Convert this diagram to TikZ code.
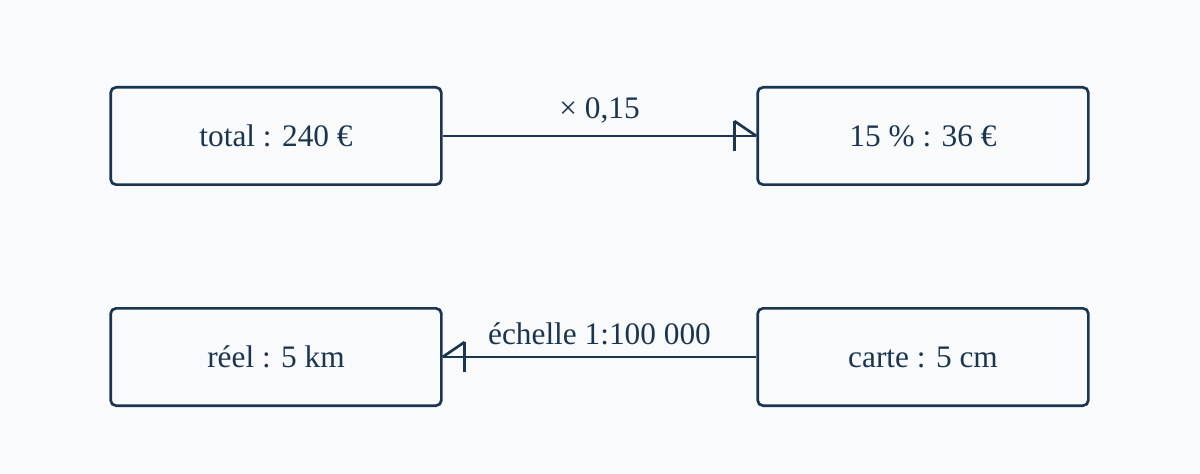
\documentclass[tikz,border=0pt]{standalone}
\usepackage{fontspec}
\setmainfont{Liberation Serif}
\usetikzlibrary{calc}
\definecolor{ink}{HTML}{1B3550}
\definecolor{bg}{HTML}{F8FAFC}
\begin{document}
\begin{tikzpicture}
            [x=0.75pt, y=-0.75pt,
             box/.style = {draw=ink, line width=2pt, rounded corners=4pt, minimum width=248pt, minimum height=73pt, inner sep=0pt, font=\fontsize{23.5}{26}\selectfont, text=ink},
             link/.style = {draw=ink, line width=2pt},
             lbl/.style = {font=\fontsize{23.5}{26}\selectfont, text=ink}]
            \fill[bg] (0,0) rectangle (1200,474);
            \node[box] (total) at (276,136) {total : 240 €};
            \node[box] (part) at (923,136) {15 \% : 36 €};
            \node[box] (reel) at (276,357) {réel : 5 km};
            \node[box] (carte) at (923,357) {carte : 5 cm};
            \draw[link] (total.east) -- node[lbl, above=5pt] {× 0,15} (part.west);
            \draw[link] ($(part.west)+(-22,-15)$) -- (part.west);
            \draw[link] ($(part.west)+(-22,-15)$) -- ($(part.west)+(-22,15)$);
            \draw[link] (carte.west) -- node[lbl, above=5pt] {échelle 1:100 000} (reel.east);
            \draw[link] ($(reel.east)+(22,-15)$) -- (reel.east);
            \draw[link] ($(reel.east)+(22,-15)$) -- ($(reel.east)+(22,15)$);
        \end{tikzpicture}
\end{document}
